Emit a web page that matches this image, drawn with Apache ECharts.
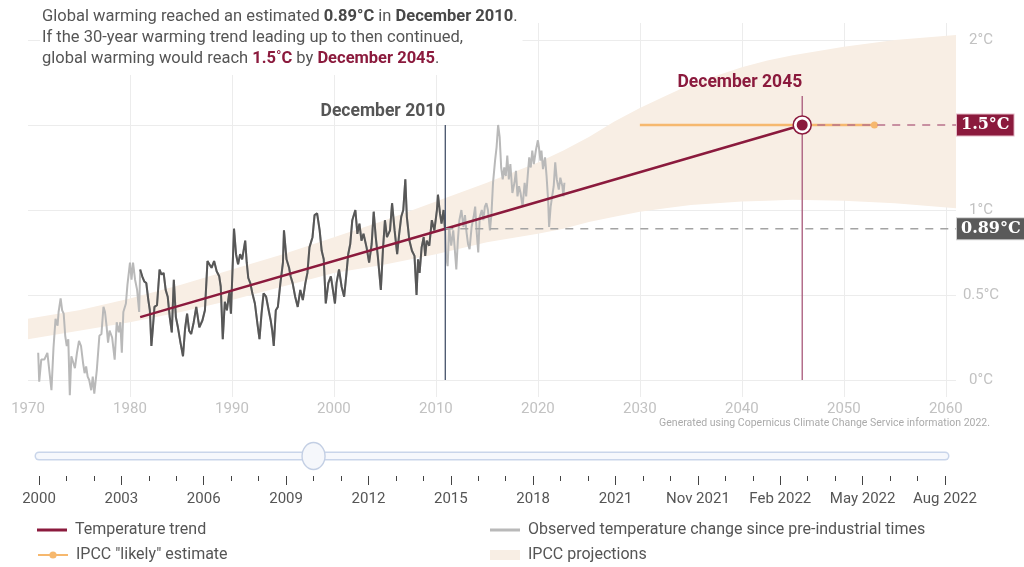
<!DOCTYPE html>
<html>
<head>
<meta charset="utf-8">
<script src="https://cdn.jsdelivr.net/npm/echarts@6/dist/echarts.min.js"></script>
<style>
  html, body { margin: 0; padding: 0; background: #fff; }
  #chart { width: 1024px; height: 567px; }
</style>
</head>
<body>
<div id="chart"></div>
<script>
// Monthly global temperature change vs pre-industrial (°C), [decimal year, value]
const observed = [
  [1971.0,0.16],[1971.1,-0.01],[1971.3,0.12],[1971.6,0.12],[1971.9,0.16],[1972.3,-0.06],[1972.5,0.19],
  [1972.7,0.36],[1972.9,0.32],[1973.0,0.40],[1973.2,0.48],[1973.35,0.41],[1973.5,0.39],[1973.65,0.26],
  [1973.8,0.20],[1973.95,0.24],[1974.1,-0.09],[1974.25,0.14],[1974.45,0.10],[1974.6,0.07],[1974.8,0.16],
  [1975.0,0.23],[1975.2,0.20],[1975.4,0.10],[1975.55,0.04],[1975.7,0.08],[1975.85,0.02],[1976.0,0.00],
  [1976.2,-0.06],[1976.35,0.02],[1976.5,-0.08],[1976.75,0.06],[1977.0,0.26],[1977.2,0.27],[1977.4,0.43],
  [1977.55,0.40],[1977.7,0.32],[1977.85,0.22],[1978.0,0.29],[1978.25,0.25],[1978.5,0.12],[1978.7,0.34],
  [1978.9,0.28],[1979.05,0.34],[1979.2,0.16],[1979.35,0.40],[1979.6,0.45],[1979.75,0.56],[1980.0,0.69],
  [1980.15,0.59],[1980.3,0.69],[1980.5,0.59],[1980.7,0.53],[1980.9,0.40],
  [1981.0,0.65],[1981.2,0.61],[1981.4,0.58],[1981.6,0.57],[1981.8,0.47],[1981.95,0.41],[1982.1,0.20],
  [1982.25,0.31],[1982.4,0.43],[1982.65,0.44],[1982.9,0.65],[1983.1,0.62],[1983.3,0.63],[1983.5,0.53],
  [1983.7,0.49],[1983.9,0.37],[1984.1,0.28],[1984.3,0.59],[1984.5,0.37],[1984.7,0.31],[1984.95,0.22],
  [1985.2,0.14],[1985.4,0.30],[1985.6,0.39],[1985.8,0.29],[1986.0,0.27],[1986.25,0.34],[1986.5,0.43],
  [1986.8,0.31],[1987.1,0.35],[1987.35,0.41],[1987.6,0.70],[1987.8,0.68],[1988.0,0.66],[1988.25,0.70],
  [1988.5,0.64],[1988.75,0.61],[1988.9,0.55],[1989.1,0.24],[1989.3,0.46],[1989.5,0.41],[1989.75,0.52],
  [1989.9,0.39],[1990.2,0.89],[1990.4,0.74],[1990.6,0.68],[1990.8,0.74],[1991.0,0.71],[1991.3,0.82],
  [1991.45,0.69],[1991.6,0.60],[1991.8,0.57],[1992.0,0.51],[1992.25,0.45],[1992.5,0.33],[1992.7,0.24],
  [1992.9,0.39],[1993.1,0.51],[1993.35,0.49],[1993.6,0.41],[1993.8,0.35],[1993.95,0.29],[1994.1,0.20],
  [1994.3,0.41],[1994.5,0.43],[1994.75,0.57],[1995.0,0.69],[1995.1,0.88],[1995.35,0.71],[1995.6,0.66],
  [1995.75,0.61],[1995.95,0.57],[1996.2,0.49],[1996.45,0.43],[1996.7,0.53],[1996.95,0.47],[1997.2,0.57],
  [1997.4,0.63],[1997.6,0.78],[1997.9,0.84],[1998.1,0.97],[1998.35,0.98],[1998.6,0.88],[1998.8,0.76],
  [1999.0,0.71],[1999.2,0.45],[1999.45,0.57],[1999.7,0.61],[1999.9,0.53],[2000.1,0.45],[2000.25,0.57],
  [2000.5,0.65],[2000.75,0.55],[2001.0,0.49],[2001.2,0.61],[2001.4,0.74],[2001.6,0.80],[2001.8,0.94],
  [2002.1,1.00],[2002.3,0.86],[2002.5,0.92],[2002.7,0.82],[2002.9,0.86],[2003.2,0.78],[2003.45,0.69],
  [2003.7,0.80],[2003.9,0.99],[2004.1,0.84],[2004.3,0.73],[2004.6,0.53],[2004.8,0.76],[2005.0,0.94],
  [2005.2,0.84],[2005.5,0.88],[2005.7,1.04],[2005.95,0.88],[2006.2,0.74],[2006.4,0.86],[2006.6,0.96],
  [2006.8,1.00],[2007.0,1.18],[2007.15,0.96],[2007.4,0.82],[2007.65,0.76],[2007.9,0.73],[2008.1,0.50],
  [2008.25,0.71],[2008.4,0.63],[2008.6,0.78],[2008.8,0.84],[2008.95,0.73],[2009.1,0.82],[2009.35,0.79],
  [2009.6,0.94],[2009.85,0.88],[2010.1,1.00],[2010.2,1.09],[2010.4,0.98],[2010.55,0.92],[2010.75,1.00],
  [2010.9,0.88],
  [2011.0,0.73],[2011.15,0.67],[2011.3,0.90],[2011.5,0.79],[2011.7,0.88],[2011.85,0.77],[2012.0,0.65],
  [2012.15,0.82],[2012.3,0.94],[2012.5,1.00],[2012.7,0.90],[2012.85,0.97],[2013.0,0.87],[2013.15,0.80],
  [2013.3,0.77],[2013.5,0.90],[2013.7,0.96],[2013.85,1.02],[2014.0,0.87],[2014.15,0.75],[2014.3,0.96],
  [2014.5,1.00],[2014.65,0.94],[2014.8,1.02],[2014.95,1.04],[2015.1,1.00],[2015.3,0.88],[2015.45,0.98],
  [2015.6,1.16],[2015.8,1.29],[2015.95,1.37],[2016.1,1.50],[2016.25,1.43],[2016.4,1.25],[2016.55,1.18],
  [2016.7,1.25],[2016.85,1.20],[2017.0,1.32],[2017.15,1.18],[2017.3,1.27],[2017.5,1.10],[2017.7,1.16],
  [2017.85,1.23],[2018.0,1.08],[2018.15,1.14],[2018.3,1.10],[2018.5,1.02],[2018.7,1.16],[2018.85,1.08],
  [2019.0,1.20],[2019.15,1.31],[2019.3,1.25],[2019.45,1.35],[2019.6,1.27],[2019.8,1.35],[2020.0,1.41],
  [2020.1,1.37],[2020.25,1.29],[2020.35,1.35],[2020.5,1.24],[2020.7,1.31],[2020.85,1.20],[2021.0,1.06],
  [2021.1,0.90],[2021.25,1.02],[2021.4,1.08],[2021.55,1.14],[2021.7,1.28],[2021.85,1.18],[2022.05,1.12],
  [2022.2,1.19],[2022.4,1.14],[2022.5,1.08],[2022.6,1.16]
];

// 30-year window used for the trend (Jan 1981 – Dec 2010)
const trendWindow = [1981.0, 2010.92];
// Linear trend, extended until it reaches 1.5 °C
const trendYears = [1981.0, 2010.92, 2045.92];
const trendTemps = [0.37, 0.89, 1.5];

// Reference points
const nowYear = 2010.92, nowTemp = 0.89, nowLabel = 'December 2010';
const targetYear = 2045.92, targetTemp = 1.5, targetLabel = 'December 2045';
const nowLineTop = 1.5, targetLineTop = 1.67;

// IPCC "likely" window for crossing 1.5 °C
const likelyYears = [2030, 2053];

// IPCC projection range
const projYears = [1970, 1975, 1980, 1985, 1990, 1995, 2000, 2005, 2010, 2015, 2020, 2022.5, 2025, 2027.5,
                   2030, 2032.5, 2035, 2037.5, 2040, 2042.5, 2045, 2050, 2055, 2061];
const projLow   = [0.24, 0.29, 0.34, 0.40, 0.47, 0.55, 0.63, 0.68, 0.74, 0.81, 0.86, 0.89, 0.93, 0.96,
                   0.99, 1.01, 1.03, 1.04, 1.05, 1.055, 1.06, 1.055, 1.04, 1.01];
const projHigh  = [0.36, 0.41, 0.48, 0.56, 0.65, 0.74, 0.84, 0.94, 1.05, 1.16, 1.28, 1.35, 1.43, 1.52,
                   1.60, 1.67, 1.74, 1.79, 1.84, 1.88, 1.91, 1.96, 2.00, 2.03];

// Axis ticks
const xLabelYears = [1970, 1980, 1990, 2000, 2010, 2020, 2030, 2040, 2050, 2060];
const xGridYears = [1980, 1990, 2000, 2010, 2020, 2030, 2040, 2050, 2060];
const yTicks = [0, 0.5, 1, 1.5, 2];

// Time slider stops
const sliderStops = ['2000','2001','2002','2003','2004','2005','2006','2007','2008','2009','2010','2011',
  '2012','2013','2014','2015','2016','2017','2018','2019','2020','2021','Sep 2021','Oct 2021','Nov 2021',
  'Dec 2021','Jan 2022','Feb 2022','Mar 2022','Apr 2022','May 2022','Jun 2022','Jul 2022','Aug 2022'];
const sliderCurrent = '2010';

const FONT = 'Roboto, "Noto Sans", sans-serif';
const RED = '#8b1a3d';
const LIGHT = '#b9b9b9';
const DARK = '#575757';
const ORANGE = '#f6b86e';
const BAND = '#f8eee4';

const observedWindow = observed.filter(p => p[0] >= trendWindow[0] && p[0] <= trendWindow[1]);
const trendData = trendYears.map((y, i) => [y, trendTemps[i]]);
const xMax = projYears[projYears.length - 1];

const fmtTemp = v => v + '°C';

const chart = echarts.init(document.getElementById('chart'));

const titleText =
  '{t|Global warming reached an estimated }{b|' + fmtTemp(nowTemp) + '}{t| in }{b|' + nowLabel + '}{t|.}\n' +
  '{t|If the 30-year warming trend leading up to then continued,}\n' +
  '{t|global warming would reach }{r|' + targetTemp + '˚C}{t| by }{r|' + targetLabel + '}{t|.}';

const boxLabel = (bg, border) => ({
  show: true,
  formatter: p => fmtTemp(p.value[1]),
  distance: 1,
  backgroundColor: bg,
  borderColor: border,
  borderWidth: 1,
  padding: [3, 4, 2, 4],
  color: '#fff',
  fontFamily: '"DejaVu Serif", serif',
  fontWeight: 'bold',
  fontSize: 16
});

const legendBase = {
  orient: 'horizontal', itemWidth: 30, padding: 0, selectedMode: false,
  textStyle: { fontFamily: FONT, fontSize: 16, color: '#555', padding: [0, 0, 0, 3] }
};

chart.setOption({
  animation: false,
  title: [{
    left: 40, top: 2,
    text: titleText,
    backgroundColor: '#fff',
    padding: [4, 5, 8, 2],
    textStyle: {
      rich: {
        t: { fontFamily: FONT, fontSize: 16.5, color: '#555', fontWeight: 'normal', lineHeight: 21 },
        b: { fontFamily: FONT, fontSize: 16.5, color: '#484848', fontWeight: 'bold', lineHeight: 21 },
        r: { fontFamily: FONT, fontSize: 16.5, color: RED, fontWeight: 'bold', lineHeight: 21 }
      }
    }
  }, {
    right: 34, top: 418, padding: 0,
    text: 'Generated using Copernicus Climate Change Service information 2022.',
    textStyle: { fontFamily: FONT, fontSize: 10.5, color: '#ababab', fontWeight: 'normal' }
  }],
  legend: [
    Object.assign({}, legendBase, { left: 37, top: 522, itemHeight: 3,
      data: [{ name: 'Temperature trend', icon: 'rect' }] }),
    Object.assign({}, legendBase, { left: 37, top: 547, itemHeight: 9,
      data: ['IPCC "likely" estimate'] }),
    Object.assign({}, legendBase, { left: 490, top: 522, itemHeight: 3,
      data: [{ name: 'Observed temperature change since pre-industrial times', icon: 'rect' }] }),
    Object.assign({}, legendBase, { left: 490, top: 547, itemHeight: 10,
      data: [{ name: 'IPCC projections', icon: 'rect' }] })
  ],
  grid: [
    { left: 28, right: 68, top: 23, bottom: 170 },
    { left: 39, right: 79, top: 436, height: 40 }
  ],
  xAxis: [{
    type: 'value', min: 1970, max: xMax,
    axisLine: { show: false },
    axisTick: { show: false, customValues: xGridYears },
    axisLabel: { customValues: xLabelYears, formatter: v => String(v), color: '#c2c2c2', fontSize: 15,
                 fontFamily: FONT, margin: 5 },
    splitLine: { show: true, lineStyle: { color: '#ececec', width: 1 } }
  }, {
    gridIndex: 1, type: 'category', data: sliderStops, boundaryGap: false, position: 'bottom',
    axisLine: { show: false },
    axisTick: { show: true, interval: 2, length: 9, lineStyle: { color: '#444', width: 1 } },
    axisLabel: { interval: 2, margin: 16, color: '#555', fontSize: 15, fontFamily: FONT },
    splitLine: { show: false }
  }, {
    gridIndex: 1, type: 'category', data: sliderStops, boundaryGap: false, position: 'bottom',
    axisLine: { show: false },
    axisTick: { show: true, interval: 0, length: 5, lineStyle: { color: '#444', width: 1 } },
    axisLabel: { show: false },
    splitLine: { show: false }
  }],
  yAxis: [{
    type: 'value', min: -0.1, max: 2.1, position: 'right',
    axisLine: { show: false },
    axisTick: { show: false, customValues: yTicks },
    axisLabel: { customValues: yTicks, formatter: fmtTemp, color: '#c2c2c2', fontSize: 15,
                 fontFamily: FONT, align: 'center', margin: 25 },
    splitLine: { show: true, lineStyle: { color: '#ececec', width: 1 } }
  }, {
    gridIndex: 1, type: 'value', min: 0, max: 1, show: false
  }],
  series: [
    // IPCC projection band, drawn as one polygon between the low and high edges
    { name: 'IPCC projections', type: 'custom', silent: true, z: 1, data: [0],
      itemStyle: { color: BAND },
      renderItem: (params, api) => {
        const upper = projYears.map((y, i) => api.coord([y, projHigh[i]]));
        const lower = projYears.map((y, i) => api.coord([y, projLow[i]])).reverse();
        return { type: 'polygon', shape: { points: upper.concat(lower) }, style: { fill: BAND } };
      } },
    // Observed temperatures, full record and the 30-year window
    { name: 'Observed temperature change since pre-industrial times', type: 'line', data: observed,
      symbol: 'none', color: LIGHT, lineStyle: { width: 2, color: LIGHT }, z: 2 },
    { name: 'Observed temperature change since pre-industrial times', type: 'line', data: observedWindow,
      symbol: 'none', color: DARK, lineStyle: { width: 2, color: DARK }, z: 3 },
    // Trend
    { name: 'Temperature trend', type: 'line', data: trendData, symbol: 'none',
      color: RED, lineStyle: { width: 2.5, color: RED }, z: 4 },
    // IPCC likely range for reaching 1.5 °C
    { name: 'IPCC "likely" estimate', type: 'line', symbol: 'circle', symbolSize: 7,
      data: [{ value: [likelyYears[0], targetTemp], symbol: 'none' }, [likelyYears[1], targetTemp]],
      color: ORANGE, itemStyle: { color: ORANGE }, lineStyle: { width: 2.5, color: ORANGE }, z: 4 },
    // Dashed guide at today's level
    { name: 'nowLevel', type: 'line', symbol: 'none', data: [[nowYear, nowTemp], [xMax, nowTemp]],
      lineStyle: { width: 1.5, color: '#a3a3a3', type: [8, 7] },
      endLabel: boxLabel('#5a5a5a', '#d0d0d0'), z: 5 },
    // Dashed guide at the target level
    { name: 'targetLevel', type: 'line', symbol: 'none', data: [[targetYear, targetTemp], [xMax, targetTemp]],
      lineStyle: { width: 1.5, color: '#b8728b', type: [8, 7] },
      endLabel: boxLabel(RED, '#e6bcc9'), z: 5 },
    // Vertical markers
    { name: 'nowLine', type: 'line', symbol: 'none', data: [[nowYear, 0], [nowYear, nowLineTop]],
      lineStyle: { width: 1.3, color: '#46526a' }, z: 6 },
    { name: 'targetLine', type: 'line', symbol: 'none', data: [[targetYear, 0], [targetYear, targetLineTop]],
      lineStyle: { width: 1.3, color: '#a8587a' }, z: 6 },
    // Crossing point
    { name: 'targetRing', type: 'scatter', data: [[targetYear, targetTemp]], symbolSize: 18,
      itemStyle: { color: '#fff', borderColor: RED, borderWidth: 1.5, opacity: 1 }, z: 7 },
    { name: 'targetDot', type: 'scatter', data: [[targetYear, targetTemp]], symbolSize: 11,
      itemStyle: { color: RED, opacity: 1 }, z: 8 },
    // Date annotations above the vertical markers
    { name: 'dateLabels', type: 'scatter', symbolSize: 1, itemStyle: { color: 'transparent', opacity: 1 }, z: 9,
      label: { show: true, position: 'top', align: 'right', distance: 4, fontFamily: FONT,
               fontSize: 17.5, fontWeight: 'bold' },
      data: [
        { value: [nowYear, nowLineTop], label: { formatter: nowLabel, color: '#555' } },
        { value: [targetYear, targetLineTop], label: { formatter: targetLabel, color: RED } }
      ] },
    // Time slider
    { name: 'sliderTrackEdge', type: 'line', xAxisIndex: 1, yAxisIndex: 1, symbol: 'none', silent: true,
      data: [[sliderStops[0], 0.5], [sliderStops[sliderStops.length - 1], 0.5]],
      lineStyle: { width: 9, color: '#c9d5ea', cap: 'round' } },
    { name: 'sliderTrack', type: 'line', xAxisIndex: 1, yAxisIndex: 1, symbol: 'none', silent: true,
      data: [[sliderStops[0], 0.5], [sliderStops[sliderStops.length - 1], 0.5]],
      lineStyle: { width: 6, color: '#f6f8fc', cap: 'round' } },
    { name: 'sliderHandle', type: 'scatter', xAxisIndex: 1, yAxisIndex: 1, silent: true,
      data: [[sliderCurrent, 0.5]], symbol: 'circle', symbolSize: [23, 27],
      itemStyle: { color: '#f5f7fb', borderColor: '#c3cfe4', borderWidth: 1.5, opacity: 1 }, z: 5 }
  ]
});
</script>
</body>
</html>
